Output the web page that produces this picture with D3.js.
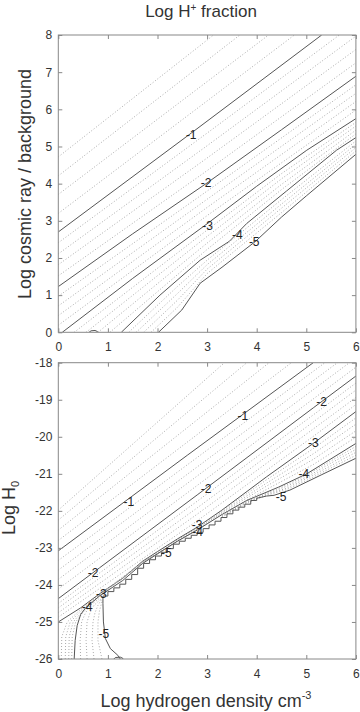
<!DOCTYPE html>
<html>
<head>
<meta charset="utf-8">
<script src="https://cdn.jsdelivr.net/npm/d3@7"></script>
<style>
  body { margin: 0; background: #fff; }
  text { font-family: "Liberation Sans", Arial, sans-serif; }
</style>
</head>
<body>
<svg width="360" height="712"></svg>
<script>
// ---- data ----
var xTicks = [0, 1, 2, 3, 4, 5, 6];
var topYTicks = [0, 1, 2, 3, 4, 5, 6, 7, 8];
var botYTicks = [-26, -25, -24, -23, -22, -21, -20, -19, -18];

// upper panel: log cosmic ray / background vs log n(H), contour level + points
var topContours = [
  { level: -0.2, pts: [[0, 4.72], [3.13, 8]] },
  { level: -0.4, pts: [[0, 4.21], [3.66, 8]] },
  { level: -0.6, pts: [[0, 3.71], [4.24, 8]] },
  { level: -0.8, pts: [[0, 3.2], [4.76, 8]] },
  { level: -1, pts: [[0, 2.7], [2.68, 5.36], [5.31, 8]] },
  { level: -1.2, pts: [[0, 2.41], [3, 5.36], [6, 8.33]] },
  { level: -1.4, pts: [[0, 2.11], [3, 5.02], [6, 7.97]] },
  { level: -1.6, pts: [[0, 1.82], [3, 4.69], [6, 7.61]] },
  { level: -1.8, pts: [[0, 1.52], [3, 4.35], [6, 7.25]] },
  { level: -2, pts: [[0, 1.23], [1.5, 2.65], [3, 4.02], [4.5, 5.45], [6, 6.89]] },
  { level: -2.2, pts: [[0, 0.97], [3, 3.8], [6, 6.66]] },
  { level: -2.4, pts: [[0, 0.71], [3, 3.58], [6, 6.43]] },
  { level: -2.6, pts: [[0, 0.45], [3, 3.36], [6, 6.21]] },
  { level: -2.8, pts: [[0, 0.19], [3, 3.14], [6, 5.98]] },
  { level: -3, pts: [[0.08, 0], [1.5, 1.45], [3, 2.92], [4, 3.93], [5.01, 4.9], [6, 5.75]] },
  { level: -3.2, pts: [[0.32, 0], [3, 2.75], [4.5, 4.27], [6, 5.65]] },
  { level: -3.4, pts: [[0.56, 0], [3, 2.58], [4.5, 4.13], [6, 5.55]] },
  { level: -3.6, pts: [[0.8, 0], [3, 2.4], [4.5, 3.98], [6, 5.44]] },
  { level: -3.8, pts: [[1.04, 0], [3, 2.23], [4.5, 3.84], [6, 5.34]] },
  { level: -4, pts: [[1.27, 0], [2.05, 1], [2.86, 1.94], [3.45, 2.45], [3.8, 2.93], [4.6, 3.8], [5.61, 4.9], [6, 5.24]] },
  { level: -4.2, pts: [[1.42, 0], [2.4, 1.23], [3, 1.94], [4.5, 3.57], [6, 5.15]] },
  { level: -4.4, pts: [[1.57, 0], [2.4, 1.04], [3, 1.82], [4.5, 3.45], [6, 5.06]] },
  { level: -4.6, pts: [[1.72, 0], [2.4, 0.86], [3, 1.7], [4.5, 3.34], [6, 4.97]] },
  { level: -4.8, pts: [[1.87, 0], [2.4, 0.67], [3, 1.58], [4.5, 3.22], [6, 4.88]] },
  { level: -5, pts: [[2.02, 0], [2.49, 0.6], [2.86, 1.32], [3.3, 1.75], [3.97, 2.44], [4.5, 3.1], [5, 3.67], [6, 4.79]] },
  { level: -5, pts: [[0.62, 0], [0.66, 0.04], [0.74, 0.05], [0.79, 0.02], [0.8, 0]] }
];
var topLabels = [
  { text: '-1', x: 2.68, y: 5.33 },
  { text: '-2', x: 2.98, y: 4.03 },
  { text: '-3', x: 3.01, y: 2.88 },
  { text: '-4', x: 3.61, y: 2.63 },
  { text: '-5', x: 3.95, y: 2.43 }
];

// lower panel: log H0 vs log n(H)
var minus5Edge = [
  [1.25, -26], [1.2, -25.9], [1.05, -25.72], [0.95, -25.45], [0.91, -25.0], [0.9, -24.5], [0.9, -24.3],
  [1.0, -24.3], [1.0, -24.18], [1.12, -24.18], [1.12, -24.08], [1.24, -24.08], [1.24, -23.98],
  [1.36, -23.98], [1.36, -23.85], [1.48, -23.85], [1.48, -23.72], [1.6, -23.72], [1.6, -23.55],
  [1.72, -23.55], [1.72, -23.42], [1.84, -23.42], [1.84, -23.32], [1.96, -23.32], [1.96, -23.22],
  [2.08, -23.22], [2.08, -23.12], [2.2, -23.12], [2.2, -23.02], [2.32, -23.02], [2.32, -22.9],
  [2.44, -22.9], [2.44, -22.82], [2.56, -22.82], [2.56, -22.74], [2.68, -22.74], [2.68, -22.66],
  [2.8, -22.66], [2.8, -22.58], [2.92, -22.58], [2.92, -22.48], [3.04, -22.48], [3.04, -22.38],
  [3.16, -22.38], [3.16, -22.28], [3.28, -22.28], [3.28, -22.18], [3.4, -22.18], [3.4, -22.08],
  [3.52, -22.08], [3.52, -21.98], [3.64, -21.98], [3.64, -21.9], [3.76, -21.9], [3.76, -21.82],
  [3.88, -21.82], [3.88, -21.72], [4.0, -21.72], [4.0, -21.66], [4.2, -21.6], [4.35, -21.58],
  [4.67, -21.44], [5.3, -21.03], [6, -20.58]
];
var botContours = [
  { level: -0.2, pts: [[0, -21.98], [3.35, -18]] },
  { level: -0.4, pts: [[0, -22.25], [3.8, -18]] },
  { level: -0.6, pts: [[0, -22.52], [4.25, -18]] },
  { level: -0.8, pts: [[0, -22.8], [4.7, -18]] },
  { level: -1, pts: [[0, -23.08], [2.6, -20.5], [5.14, -18]] },
  { level: -1.2, pts: [[0, -23.34], [6, -17.38]] },
  { level: -1.4, pts: [[0, -23.6], [6, -17.63]] },
  { level: -1.6, pts: [[0, -23.85], [6, -17.87]] },
  { level: -1.8, pts: [[0, -24.11], [6, -18.12]] },
  { level: -2, pts: [[0, -24.37], [0.83, -23.54], [2.8, -21.57], [5.14, -19.22], [6, -18.36]] },
  { level: -2.2, pts: [[0, -24.5], [0.83, -23.68], [2.8, -21.74], [5.14, -19.41], [6, -18.55]] },
  { level: -2.4, pts: [[0, -24.62], [0.83, -23.82], [2.8, -21.92], [5.14, -19.6], [6, -18.74]] },
  { level: -2.6, pts: [[0, -24.75], [0.83, -23.96], [2.8, -22.09], [5.14, -19.79], [6, -18.94]] },
  { level: -2.8, pts: [[0, -24.87], [0.83, -24.1], [2.8, -22.27], [5.14, -19.99], [6, -19.13]] },
  { level: -3, pts: [[0, -25.0], [0.45, -24.62], [0.83, -24.24], [1.3, -23.82], [1.7, -23.36], [2.0, -23.1], [2.4, -22.76], [2.8, -22.44], [3.3, -21.98], [4.2, -21.08], [5.14, -20.18], [6, -19.32]] },
  { level: -3.2, pts: [[0.06, -26], [0.07, -25.4], [0.18, -25.0], [0.45, -24.66], [0.83, -24.26], [1.7, -23.38], [2.8, -22.46], [3.3, -22.0], [4.2, -21.16], [5.14, -20.32], [6, -19.49]] },
  { level: -3.4, pts: [[0.14, -26], [0.15, -25.4], [0.24, -25.0], [0.46, -24.69], [0.83, -24.27], [1.7, -23.39], [2.8, -22.47], [3.3, -22.03], [4.2, -21.25], [5.14, -20.46], [6, -19.66]] },
  { level: -3.6, pts: [[0.21, -26], [0.22, -25.4], [0.3, -25.0], [0.48, -24.72], [0.83, -24.28], [1.7, -23.4], [2.8, -22.49], [3.3, -22.05], [4.2, -21.33], [5.14, -20.61], [6, -19.84]] },
  { level: -3.8, pts: [[0.27, -26], [0.28, -25.4], [0.35, -25.0], [0.5, -24.74], [0.83, -24.29], [1.7, -23.41], [2.8, -22.5], [3.3, -22.08], [4.2, -21.42], [5.14, -20.75], [6, -20.01]] },
  { level: -4, pts: [[0.32, -26], [0.34, -25.5], [0.38, -25.1], [0.45, -24.8], [0.55, -24.62], [0.83, -24.3], [1.3, -23.88], [1.7, -23.42], [2.0, -23.16], [2.4, -22.82], [2.8, -22.52], [3.3, -22.1], [3.8, -21.72], [4.44, -21.36], [5.01, -21.0], [6, -20.18]] },
  { level: -4.2, pts: [[0.45, -26], [0.44, -25.5], [0.47, -25.0], [0.55, -24.75], [0.65, -24.55], [0.85, -24.34]] },
  { level: -4.4, pts: [[0.58, -26], [0.56, -25.5], [0.58, -25.0], [0.64, -24.75], [0.72, -24.55], [0.86, -24.38]] },
  { level: -4.6, pts: [[0.72, -26], [0.68, -25.5], [0.7, -25.0], [0.74, -24.75], [0.8, -24.55], [0.87, -24.4]] },
  { level: -4.8, pts: [[0.88, -26], [0.8, -25.5], [0.8, -25.0], [0.83, -24.7], [0.88, -24.45]] },
  { level: -4.2, pts: [[3.3, -22.12], [3.8, -21.74], [4.2, -21.52], [4.6, -21.3], [5.0, -21.04], [5.5, -20.65], [6, -20.26]] },
  { level: -4.4, pts: [[3.3, -22.14], [3.8, -21.76], [4.2, -21.54], [4.6, -21.34], [5.0, -21.09], [5.5, -20.71], [6, -20.34]] },
  { level: -4.6, pts: [[3.3, -22.15], [3.8, -21.77], [4.2, -21.56], [4.6, -21.39], [5.0, -21.13], [5.5, -20.78], [6, -20.42]] },
  { level: -4.8, pts: [[3.3, -22.17], [3.8, -21.79], [4.2, -21.58], [4.6, -21.43], [5.0, -21.18], [5.5, -20.84], [6, -20.5]] },
  { level: -5, pts: minus5Edge },
  { level: -5, pts: [[1.12, -26], [1.15, -25.96], [1.25, -25.95], [1.3, -25.98], [1.3, -26]] }
];
var botLabels = [
  { text: '-1', x: 3.72, y: -19.44 },
  { text: '-2', x: 5.31, y: -19.06 },
  { text: '-3', x: 5.14, y: -20.17 },
  { text: '-1', x: 1.42, y: -21.75 },
  { text: '-2', x: 2.98, y: -21.39 },
  { text: '-4', x: 4.95, y: -21.0 },
  { text: '-5', x: 4.49, y: -21.63 },
  { text: '-3', x: 2.8, y: -22.37 },
  { text: '-4', x: 2.81, y: -22.56 },
  { text: '-5', x: 2.18, y: -23.13 },
  { text: '-2', x: 0.7, y: -23.68 },
  { text: '-3', x: 0.87, y: -24.24 },
  { text: '-4', x: 0.58, y: -24.58 },
  { text: '-5', x: 0.92, y: -25.31 }
];

// ---- layout ----
var svg = d3.select('svg');
var plotLeft = 58.3, plotW = 297.6;
var panels = [
  { id: 'top', top: 35, h: 297.3, yDomain: [0, 8], yTicks: topYTicks, contours: topContours, labels: topLabels },
  { id: 'bot', top: 362.7, h: 296.3, yDomain: [-26, -18], yTicks: botYTicks, contours: botContours, labels: botLabels }
];

var xScale = d3.scaleLinear().domain([0, 6]).range([0, plotW]);
var plainFmt = function (d) { return String(d); };  // hyphen minus like the figure

panels.forEach(function (p) {
  var yScale = d3.scaleLinear().domain(p.yDomain).range([p.h, 0]);
  var g = svg.append('g').attr('transform', 'translate(' + [plotLeft, p.top] + ')');

  g.append('clipPath').attr('id', 'clip-' + p.id)
    .append('rect').attr('width', plotW).attr('height', p.h);

  var line = d3.line()
    .x(function (d) { return xScale(d[0]); })
    .y(function (d) { return yScale(d[1]); });

  var cg = g.append('g').attr('clip-path', 'url(#clip-' + p.id + ')');
  cg.selectAll('path.contour')
    .data(p.contours)
    .enter()
    .append('path')
    .attr('class', 'contour')
    .attr('fill', 'none')
    .attr('stroke', function (d) { return Number.isInteger(d.level) ? '#555' : '#aaa'; })
    .attr('stroke-width', 1)
    .attr('stroke-dasharray', function (d) { return Number.isInteger(d.level) ? null : '1,2'; })
    .attr('d', function (d) { return line(d.pts); });

  g.selectAll('text.clabel')
    .data(p.labels)
    .enter()
    .append('text')
    .attr('class', 'clabel')
    .attr('x', function (d) { return xScale(d.x); })
    .attr('y', function (d) { return yScale(d.y); })
    .attr('dy', '0.36em')
    .attr('text-anchor', 'middle')
    .attr('font-size', 12)
    .attr('fill', '#222')
    .text(function (d) { return d.text; });

  // inward ticks on all four sides
  var axes = [
    { ax: d3.axisBottom(xScale).tickValues(xTicks).tickSize(-4).tickPadding(10), t: [0, p.h], labels: true },
    { ax: d3.axisTop(xScale).tickValues(xTicks).tickSize(-4), t: [0, 0], labels: false },
    { ax: d3.axisLeft(yScale).tickValues(p.yTicks).tickSize(-4).tickPadding(6), t: [0, 0], labels: true },
    { ax: d3.axisRight(yScale).tickValues(p.yTicks).tickSize(-4), t: [plotW, 0], labels: false }
  ];
  axes.forEach(function (a) {
    a.ax.tickFormat(plainFmt);
    var ag = g.append('g')
      .attr('transform', 'translate(' + a.t + ')')
      .call(a.ax);
    ag.select('.domain').remove();
    ag.selectAll('line').attr('stroke', '#888');
    ag.selectAll('text')
      .attr('font-size', 12)
      .attr('fill', '#333')
      .style('font-family', '"Liberation Sans", Arial, sans-serif')
      .style('display', a.labels ? null : 'none');
  });

  g.append('rect')
    .attr('width', plotW)
    .attr('height', p.h)
    .attr('fill', 'none')
    .attr('stroke', '#888');
});

// titles
var title = svg.append('text')
  .attr('x', 201).attr('y', 17)
  .attr('text-anchor', 'middle')
  .attr('font-size', 17)
  .attr('fill', '#333');
title.append('tspan').text('Log H');
title.append('tspan').attr('dy', -6).attr('font-size', 10).text('+');
title.append('tspan').attr('dy', 6).text(' fraction');

svg.append('text')
  .attr('transform', 'translate(31,184) rotate(-90)')
  .attr('text-anchor', 'middle')
  .attr('font-size', 18)
  .attr('fill', '#333')
  .text('Log cosmic ray / background');

var yLab = svg.append('text')
  .attr('transform', 'translate(15,508) rotate(-90)')
  .attr('text-anchor', 'middle')
  .attr('font-size', 18)
  .attr('fill', '#333');
yLab.append('tspan').text('Log H');
yLab.append('tspan').attr('dy', 4).attr('font-size', 11).text('0');

var xLab = svg.append('text')
  .attr('x', 206).attr('y', 707)
  .attr('text-anchor', 'middle')
  .attr('font-size', 18)
  .attr('fill', '#333');
xLab.append('tspan').text('Log hydrogen density cm');
xLab.append('tspan').attr('dy', -8).attr('font-size', 11).text('-3');
</script>
</body>
</html>
